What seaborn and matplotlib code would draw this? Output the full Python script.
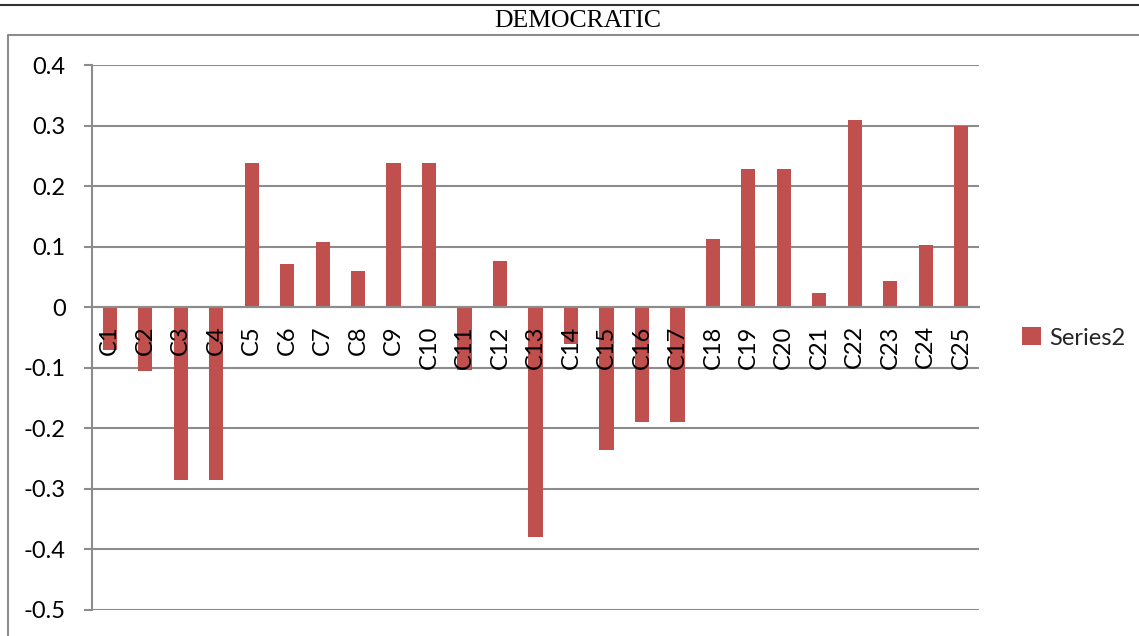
import matplotlib
matplotlib.use("Agg")
import matplotlib.pyplot as plt
import seaborn as sns
import pandas as pd
from matplotlib.lines import Line2D
from matplotlib.patches import Patch

# Data
categories = [f"C{i}" for i in range(1, 26)]
values = [-0.07, -0.105, -0.285, -0.285, 0.238, 0.071, 0.107, 0.059, 0.238, 0.238,
          -0.103, 0.076, -0.379, -0.06, -0.235, -0.189, -0.189, 0.112, 0.229, 0.229,
          0.024, 0.309, 0.043, 0.102, 0.299]
series_name = "Series2"
title = "DEMOCRATIC"
y_ticks = [0.4, 0.3, 0.2, 0.1, 0, -0.1, -0.2, -0.3, -0.4, -0.5]
y_tick_labels = ["0.4", "0.3", "0.2", "0.1", "0", "-0.1", "-0.2", "-0.3", "-0.4", "-0.5"]

sns.set_theme(style="white")
plt.rcParams["font.family"] = ["Lato", "DejaVu Sans"]

BAR = "#C0504D"
GRID = "#8C8C8C"
FS = 17

fig = plt.figure(figsize=(11.39, 6.36), dpi=100)
ax = fig.add_axes([92 / 1139, 1 - 610 / 636, (979 - 92) / 1139, (610 - 65) / 636])

df = pd.DataFrame({"cat": categories, "val": values})
sns.barplot(data=df, x="cat", y="val", color=BAR, width=0.4, ax=ax,
            saturation=1, edgecolor="none", zorder=2)

ax.set_xlim(-0.5, len(categories) - 0.5)
ax.set_ylim(-0.5, 0.4)
ax.set_yticks(y_ticks)
ax.set_yticklabels(y_tick_labels)
ax.set_xlabel("")
ax.set_ylabel("")

# horizontal gridlines behind the bars; axis (with its labels) stays above them
ax.grid(False)
for t in y_ticks:
    ax.axhline(t, color=GRID, linewidth=1.5, zorder=0.5)
ax.set_axisbelow(False)

for s in ["top", "right"]:
    ax.spines[s].set_visible(False)
ax.spines["left"].set_color(GRID)
ax.spines["left"].set_linewidth(1.5)
ax.spines["bottom"].set_position(("data", 0))
ax.spines["bottom"].set_color(GRID)
ax.spines["bottom"].set_linewidth(1.5)

# category labels at bar centres, tick marks on category boundaries
ax.set_xticks(range(len(categories)))
ax.set_xticklabels(categories, rotation=90, fontsize=FS)
ax.tick_params(axis="x", which="major", length=0, pad=13, colors="black")
ax.set_xticks([i - 0.5 for i in range(len(categories) + 1)], minor=True)
ax.tick_params(axis="x", which="minor", length=6, width=1.5, color=GRID, direction="out")
ax.tick_params(axis="y", length=6, width=1.5, color=GRID, pad=13, labelsize=FS,
               labelcolor="black", left=True)

# legend
handle = Patch(facecolor=BAR, edgecolor="none")
fig.legend([handle], [series_name], loc="center left",
           bbox_to_anchor=(1001 / 1139, 1 - 338 / 636), frameon=False,
           fontsize=FS, handlelength=0.8, handleheight=0.8, handletextpad=0.35)

# title and page frame
fig.text(578 / 1139, 1 - 21 / 636, title, ha="center", va="center",
         fontsize=18.5, family=["Liberation Serif", "DejaVu Serif"], color="black")
fig.add_artist(Line2D([0, 1], [1 - 5 / 636, 1 - 5 / 636], color="#333333", lw=1.5))
fig.add_artist(Line2D([8 / 1139, 8 / 1139, 1.01], [-0.01, 1 - 35 / 636, 1 - 35 / 636],
                      color=GRID, lw=1.5))

fig.savefig("out.png", dpi=100)
